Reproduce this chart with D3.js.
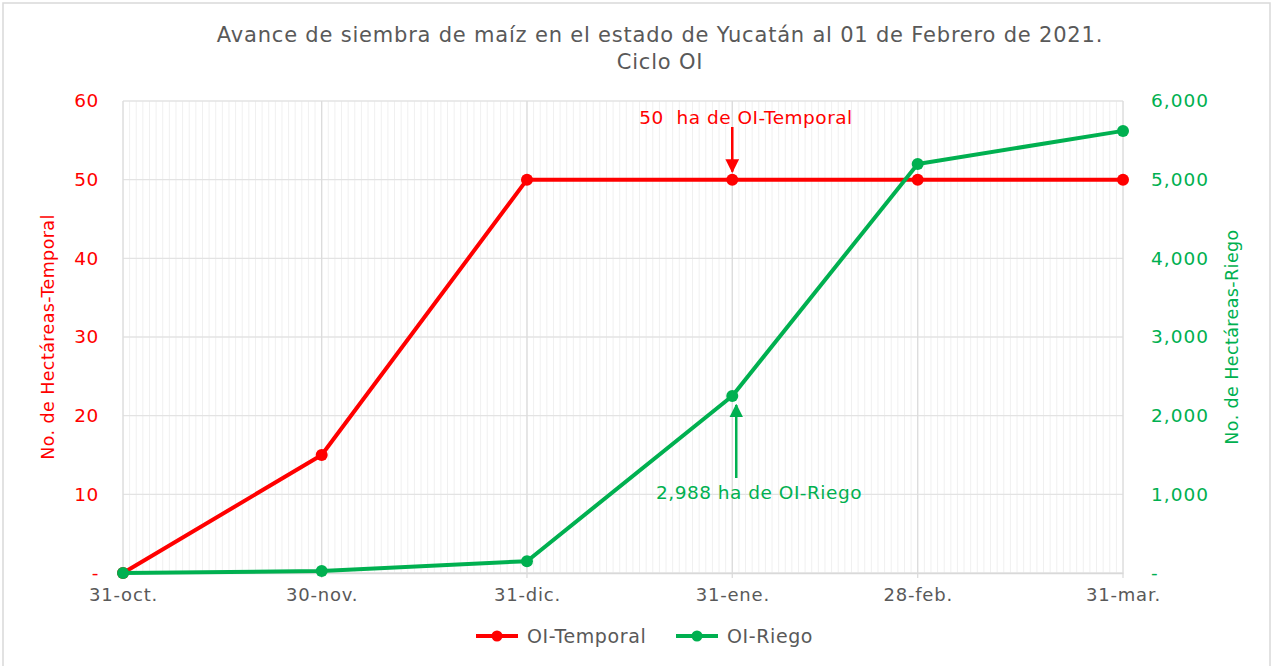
<!DOCTYPE html>
<html>
<head>
<meta charset="utf-8">
<script src="https://cdn.jsdelivr.net/npm/d3@7"></script>
<style>
  body { margin: 0; background: #fff; }
  text { font-family: "DejaVu Sans", "Open Sans", sans-serif; }
</style>
</head>
<body>
<svg id="chart" width="1276" height="666"></svg>
<script>
// data
const dates = ["2020-10-31", "2020-11-30", "2020-12-31", "2021-01-31", "2021-02-28", "2021-03-31"]
const date_labels = ["31-oct.", "30-nov.", "31-dic.", "31-ene.", "28-feb.", "31-mar."]
const temporal = [0, 15, 50, 50, 50, 50]
const riego = [0, 25, 150, 2250, 5200, 5620]
const left_ticks = [0, 10, 20, 30, 40, 50, 60]
const right_ticks = [0, 1000, 2000, 3000, 4000, 5000, 6000]

const red = "#ff0000", green = "#00b050", grey = "#595959"
const parse = d3.utcParse("%Y-%m-%d")
const days = dates.map(parse)

const svg = d3.select("#chart")
const m = {left: 123, right: 1123, top: 101, bottom: 573}

// outer border
svg.append("rect")
  .attr("x", 3).attr("y", 3).attr("width", 1267).attr("height", 670)
  .attr("fill", "#fff").attr("stroke", "#d9d9d9").attr("stroke-width", 1.5)

let x = d3.scaleUtc().domain([days[0], days[days.length-1]]).range([m.left, m.right])
let yL = d3.scaleLinear().domain([0, 60]).range([m.bottom, m.top])
let yR = d3.scaleLinear().domain([0, 6000]).range([m.bottom, m.top])

// minor gridlines, one per day
let grid = svg.append("g")
grid.selectAll(".minor")
  .data(d3.utcDay.range(days[0], d3.utcDay.offset(days[days.length-1], 1)))
  .enter().append("line")
  .attr("x1", d => x(d)).attr("x2", d => x(d))
  .attr("y1", m.top).attr("y2", m.bottom)
  .attr("stroke", "#f0f0f0").attr("stroke-width", 1)

// major gridlines
grid.selectAll(".hmajor")
  .data(left_ticks).enter().append("line")
  .attr("x1", m.left).attr("x2", m.right)
  .attr("y1", d => yL(d)).attr("y2", d => yL(d))
  .attr("stroke", "#e3e3e3").attr("stroke-width", 1.3)
grid.selectAll(".vmajor")
  .data(days).enter().append("line")
  .attr("x1", d => x(d)).attr("x2", d => x(d))
  .attr("y1", m.top).attr("y2", m.bottom + 5)
  .attr("stroke", "#dcdcdc").attr("stroke-width", 1.3)

// axes
let xAxis = d3.axisBottom(x).tickValues(days).tickFormat((d, i) => date_labels[i]).tickSize(0).tickPadding(15)
let gx = svg.append("g").attr("transform", `translate(0,${m.bottom})`).call(xAxis)
gx.select(".domain").attr("stroke", "#d9d9d9").attr("stroke-width", 1.5)
gx.selectAll("text").attr("fill", grey).attr("font-size", 18).attr("letter-spacing", 0.8)
  .attr("font-family", "DejaVu Sans")

let fmtL = d => d == 0 ? "-" : d
let gl = svg.append("g").attr("transform", `translate(${m.left},0)`)
  .call(d3.axisLeft(yL).tickValues(left_ticks).tickFormat(fmtL).tickSize(0).tickPadding(24))
gl.select(".domain").remove()
gl.selectAll("text").attr("fill", red).attr("font-size", 18.5).attr("letter-spacing", 0.6)
  .attr("font-family", "DejaVu Sans")

let fmtR = d => d == 0 ? "-" : d3.format(",")(d)
let gr = svg.append("g").attr("transform", `translate(${m.right},0)`)
  .call(d3.axisRight(yR).tickValues(right_ticks).tickFormat(fmtR).tickSize(0).tickPadding(28))
gr.select(".domain").remove()
gr.selectAll("text").attr("fill", green).attr("font-size", 18.5).attr("letter-spacing", 1)
  .attr("font-family", "DejaVu Sans")

// axis titles
svg.append("text")
  .attr("transform", "translate(54,337) rotate(-90)")
  .attr("text-anchor", "middle").attr("fill", red).attr("font-size", 17.5).attr("letter-spacing", 0.4)
  .text("No. de Hectáreas-Temporal")
svg.append("text")
  .attr("transform", "translate(1238,337) rotate(-90)")
  .attr("text-anchor", "middle").attr("fill", green).attr("font-size", 17.5).attr("letter-spacing", 0.4)
  .text("No. de Hectáreas-Riego")

// title
svg.append("text").attr("x", 660).attr("y", 42)
  .attr("text-anchor", "middle").attr("fill", grey).attr("font-size", 21).attr("letter-spacing", 0.8)
  .text("Avance de siembra de maíz en el estado de Yucatán al 01 de Febrero de 2021.")
svg.append("text").attr("x", 660).attr("y", 69)
  .attr("text-anchor", "middle").attr("fill", grey).attr("font-size", 21).attr("letter-spacing", 0.8)
  .text("Ciclo OI")

// lines
let series = [
  {name: "OI-Temporal", values: temporal, y: yL, color: red},
  {name: "OI-Riego", values: riego, y: yR, color: green}
]
series.forEach(s => {
  let line = d3.line().x((d, i) => x(days[i])).y(d => s.y(d))
  svg.append("path").datum(s.values)
    .attr("d", line).attr("fill", "none")
    .attr("stroke", s.color).attr("stroke-width", 4).attr("stroke-linejoin", "round")
  svg.append("g").selectAll("circle")
    .data(s.values).enter().append("circle")
    .attr("cx", (d, i) => x(days[i])).attr("cy", d => s.y(d))
    .attr("r", 6).attr("fill", s.color)
})

// arrowheads
let defs = svg.append("defs")
;[["arrRed", red], ["arrGreen", green]].forEach(([id, c]) => {
  defs.append("marker").attr("id", id)
    .attr("viewBox", "0 0 10 10").attr("refX", 9).attr("refY", 5)
    .attr("markerWidth", 5.5).attr("markerHeight", 5.5).attr("orient", "auto")
    .append("path").attr("d", "M0,0L10,5L0,10Z").attr("fill", c)
})

// annotations
let ax = x(days[3])
svg.append("text").attr("x", 746).attr("y", 124)
  .attr("text-anchor", "middle").attr("fill", red).attr("font-size", 18.5).attr("letter-spacing", 0.5)
  .attr("xml:space", "preserve")
  .text("50  ha de OI-Temporal")
svg.append("line").attr("x1", ax).attr("x2", ax).attr("y1", 127).attr("y2", yL(temporal[3]) - 8)
  .attr("stroke", red).attr("stroke-width", 2.5).attr("marker-end", "url(#arrRed)")

svg.append("text").attr("x", 759).attr("y", 499)
  .attr("text-anchor", "middle").attr("fill", green).attr("font-size", 18.5).attr("letter-spacing", 0.5)
  .text("2,988 ha de OI-Riego")
svg.append("line").attr("x1", ax + 4).attr("x2", ax + 4).attr("y1", 478).attr("y2", yR(riego[3]) + 9)
  .attr("stroke", green).attr("stroke-width", 2.5).attr("marker-end", "url(#arrGreen)")

// legend
let leg = svg.append("g").selectAll("g")
  .data(series).enter().append("g")
  .attr("transform", (d, i) => `translate(${476 + i * 200},636)`)
leg.append("line").attr("x1", 0).attr("x2", 42).attr("y1", 0).attr("y2", 0)
  .attr("stroke", d => d.color).attr("stroke-width", 4)
leg.append("circle").attr("cx", 21).attr("cy", 0).attr("r", 5.5).attr("fill", d => d.color)
leg.append("text").attr("x", 51).attr("y", 0).attr("dy", ".35em")
  .attr("fill", grey).attr("font-size", 19).attr("letter-spacing", 0.6)
  .text(d => d.name)
</script>
</body>
</html>
